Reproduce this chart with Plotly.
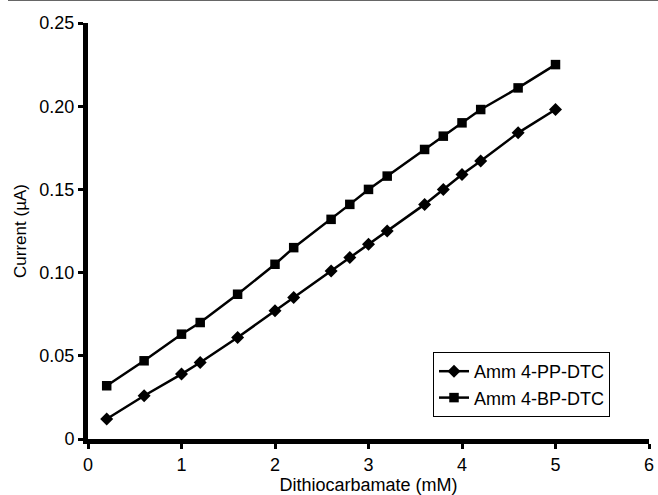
import plotly.graph_objects as go

conc = [0.2, 0.6, 1.0, 1.2, 1.6, 2.0, 2.2, 2.6, 2.8, 3.0, 3.2, 3.6, 3.8, 4.0, 4.2, 4.6, 5.0]
pp_dtc = [0.012, 0.026, 0.039, 0.046, 0.061, 0.077, 0.085, 0.101, 0.109, 0.117, 0.125,
          0.141, 0.150, 0.159, 0.167, 0.184, 0.198]
bp_dtc = [0.032, 0.047, 0.063, 0.070, 0.087, 0.105, 0.115, 0.132, 0.141, 0.150, 0.158,
          0.174, 0.182, 0.190, 0.198, 0.211, 0.225]
series_names = ["Amm 4-PP-DTC", "Amm 4-BP-DTC"]
y_tickvals = [0, 0.05, 0.10, 0.15, 0.20, 0.25]
y_ticktext = ["0", "0.05", "0.10", "0.15", "0.20", "0.25"]
x_tickvals = [0, 1, 2, 3, 4, 5, 6]

fig = go.Figure()
fig.add_trace(go.Scatter(x=conc, y=pp_dtc, mode="lines+markers", name=series_names[0],
                         line=dict(color="black", width=2.5),
                         marker=dict(symbol="diamond", size=10, color="black")))
fig.add_trace(go.Scatter(x=conc, y=bp_dtc, mode="lines+markers", name=series_names[1],
                         line=dict(color="black", width=2.5),
                         marker=dict(symbol="square", size=9.5, color="black")))

L, R, T, B = 88, 9, 23, 56
W, H = 658, 495
pw, ph = W - L - R, H - T - B

fig.update_layout(
    width=W, height=H,
    margin=dict(l=L, r=R, t=T, b=B),
    paper_bgcolor="white", plot_bgcolor="white",
    font=dict(family="Liberation Sans, Arial, sans-serif", color="black", size=17),
    showlegend=True,
    legend=dict(x=(610 - L) / pw, y=(H - B - 417) / ph, xanchor="right", yanchor="bottom",
                bordercolor="black", borderwidth=1, bgcolor="white",
                font=dict(size=18), tracegroupgap=0, itemwidth=30),
    xaxis=dict(range=[0, 6], tickvals=x_tickvals, showgrid=False, zeroline=False,
               showline=True, linecolor="black", linewidth=5, automargin=False,
               ticks="outside", ticklen=5, tickwidth=3, tickcolor="black",
               tickfont=dict(size=18),
               title=dict(text="Dithiocarbamate (mM)", font=dict(size=18), standoff=4)),
    yaxis=dict(range=[0, 0.25], tickvals=y_tickvals, ticktext=y_ticktext, showgrid=False,
               zeroline=False, showline=True, linecolor="black", linewidth=5, automargin=False,
               ticks="outside", ticklen=5, tickwidth=3, tickcolor="black",
               tickfont=dict(size=18),
               title=dict(text="Current (µA)", font=dict(size=17), standoff=10)),
    shapes=[dict(type="line", xref="paper", yref="paper",
                 x0=-(L - 8) / pw, x1=1 + R / pw, y0=1 + T / ph, y1=1 + T / ph,
                 line=dict(color="#666666", width=2))],
)

fig.write_html("out.html")
